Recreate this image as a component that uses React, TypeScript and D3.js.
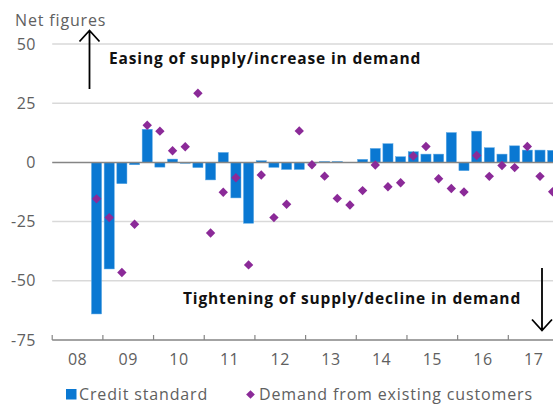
import React, { useEffect, useRef } from "react";
import * as d3 from "d3";

// quarterly survey, 2008 Q4 - 2017 Q4
const quarters: string[] = [];
for (let y = 2008; y <= 2017; y++) {
  for (let q = 1; q <= 4; q++) {
    if (y === 2008 && q < 4) continue;
    quarters.push(`${y} Q${q}`);
  }
}

const creditStandard = [
  -64, -45, -9, -1, 14, -2, 1.4, -0.4, -2.2, -7.4, 4.2, -15, -25.7, 0.7, -2.1,
  -3, -3, -0.3, 0.4, 0.4, 0, 1.3, 5.9, 7.9, 2.4, 4.5, 3.5, 3.5, 12.6, -3.5,
  13.2, 6.2, 3.5, 7, 5.2, 5.2, 5.1,
];

const demandExisting = [
  -15.4, -23.3, -46.5, -26.1, 15.7, 13.2, 4.9, 6.6, 29.2, -29.8, -12.6, -6.5,
  -43.3, -5.3, -23.3, -17.7, 13.3, -1, -5.8, -15.2, -18, -11.9, -1.1, -10.3,
  -8.6, 2.7, 6.7, -6.9, -11, -12.5, 2.9, -5.9, -1.3, -2.2, 6.7, -5.9, -12.4,
];

const yTicks = [50, 25, 0, -25, -50, -75];
const years = [2008, 2009, 2010, 2011, 2012, 2013, 2014, 2015, 2016, 2017];

const W = 553;
const H = 405;
const BLUE = "#0a78d2";
const PURPLE = "#8b2a98";
const GREY_TXT = "#606060";
const FONT = "'Open Sans', sans-serif";
const SPACING = 0.85;

const App = () => {
  const ref = useRef<SVGSVGElement>(null);

  useEffect(() => {
    document.body.style.margin = "0";
    const svg = d3.select(ref.current);
    svg.selectAll("*").remove();

    const left = 52.2;
    const y = d3.scaleLinear().domain([-75, 50]).range([340, 44]);
    const xYear = d3.scaleLinear().domain([2008, 2018]).range([left, 559]);
    const x = d3
      .scaleBand()
      .domain(quarters)
      .range([xYear(2008.75), xYear(2018)])
      .paddingInner(0.2)
      .paddingOuter(0.1);

    // gridlines
    svg
      .append("g")
      .selectAll("line")
      .data(yTicks.filter((d) => d !== 0 && d !== -75))
      .join("line")
      .attr("x1", left)
      .attr("x2", W)
      .attr("y1", (d) => y(d))
      .attr("y2", (d) => y(d))
      .attr("stroke", "#d9d9d9")
      .attr("stroke-width", 1.5);

    // y labels
    svg
      .append("g")
      .selectAll("text")
      .data(yTicks)
      .join("text")
      .attr("x", 36)
      .attr("y", (d) => y(d))
      .attr("dy", "0.35em")
      .attr("text-anchor", "end")
      .attr("font-family", FONT)
      .attr("font-size", 16)
      .attr("letter-spacing", 0.5)
      .attr("fill", GREY_TXT)
      .text((d) => d);

    svg
      .append("text")
      .attr("x", 15)
      .attr("y", 26)
      .attr("font-family", FONT)
      .attr("font-size", 16)
      .attr("letter-spacing", SPACING)
      .attr("fill", GREY_TXT)
      .text("Net figures");

    // bars
    svg
      .append("g")
      .selectAll("rect")
      .data(creditStandard)
      .join("rect")
      .attr("x", (d, i) => x(quarters[i])!)
      .attr("width", x.bandwidth())
      .attr("y", (d) => y(Math.max(0, d)))
      .attr("height", (d) => Math.abs(y(d) - y(0)))
      .attr("fill", BLUE)
      .attr("stroke", "#5fa9e4")
      .attr("stroke-width", 0.5);

    // zero line
    svg
      .append("line")
      .attr("x1", left)
      .attr("x2", W)
      .attr("y1", y(0))
      .attr("y2", y(0))
      .attr("stroke", "#858585")
      .attr("stroke-width", 1.5);

    // diamonds
    const diamond = d3.symbol().type(d3.symbolSquare).size(44);
    svg
      .append("g")
      .selectAll("path")
      .data(demandExisting)
      .join("path")
      .attr("d", diamond)
      .attr(
        "transform",
        (d, i) =>
          `translate(${x(quarters[i])! + x.bandwidth() / 2},${y(d)}) rotate(45)`
      )
      .attr("fill", PURPLE);

    // x axis
    const xAxis = svg.append("g");
    xAxis
      .append("line")
      .attr("x1", left)
      .attr("x2", W)
      .attr("y1", y(-75))
      .attr("y2", y(-75))
      .attr("stroke", "#858585")
      .attr("stroke-width", 1.5);
    xAxis
      .selectAll("line.tick")
      .data(years)
      .join("line")
      .attr("class", "tick")
      .attr("x1", (d) => xYear(d))
      .attr("x2", (d) => xYear(d))
      .attr("y1", y(-75))
      .attr("y2", y(-75) - 5)
      .attr("stroke", "#858585")
      .attr("stroke-width", 1.2);
    xAxis
      .selectAll("text")
      .data(years)
      .join("text")
      .attr("x", (d) => xYear(d + 0.5))
      .attr("y", 365)
      .attr("text-anchor", "middle")
      .attr("font-family", FONT)
      .attr("font-size", 16)
      .attr("letter-spacing", 0.5)
      .attr("fill", GREY_TXT)
      .text((d) => String(d).slice(2));

    // annotations
    svg
      .append("text")
      .attr("x", 109)
      .attr("y", 64)
      .attr("font-family", FONT)
      .attr("font-weight", "bold")
      .attr("font-size", 15.5)
      .attr("letter-spacing", SPACING)
      .attr("fill", "#111")
      .text("Easing of supply/increase in demand");
    svg
      .append("text")
      .attr("x", 183)
      .attr("y", 304)
      .attr("font-family", FONT)
      .attr("font-weight", "bold")
      .attr("font-size", 15.5)
      .attr("letter-spacing", SPACING)
      .attr("fill", "#111")
      .text("Tightening of supply/decline in demand");

    const arrow = (xa: number, y0: number, y1: number) => {
      const dir = y1 < y0 ? 1 : -1;
      const p = d3.path();
      p.moveTo(xa, y0);
      p.lineTo(xa, y1);
      p.moveTo(xa - 10, y1 + dir * 11);
      p.lineTo(xa, y1);
      p.lineTo(xa + 10, y1 + dir * 11);
      svg
        .append("path")
        .attr("d", p.toString())
        .attr("fill", "none")
        .attr("stroke", "#000")
        .attr("stroke-width", 1.8);
    };
    arrow(89.5, 89, 30.5);
    arrow(542, 268, 330.5);

    // legend
    const lg = svg
      .append("g")
      .attr("font-family", FONT)
      .attr("font-size", 16)
      .attr("letter-spacing", SPACING)
      .attr("fill", GREY_TXT);
    lg.append("rect").attr("x", 66).attr("y", 389).attr("width", 10.5).attr("height", 10.5).attr("fill", BLUE);
    lg.append("text").attr("x", 79).attr("y", 400).text("Credit standard");
    lg.append("path")
      .attr("d", d3.symbol().type(d3.symbolSquare).size(38)()!)
      .attr("transform", "translate(250.5,394.5) rotate(45)")
      .attr("fill", PURPLE);
    lg.append("text").attr("x", 259).attr("y", 400).text("Demand from existing customers");
  }, []);

  return <svg ref={ref} width={W} height={H} style={{ display: "block" }} />;
};

export default App;
